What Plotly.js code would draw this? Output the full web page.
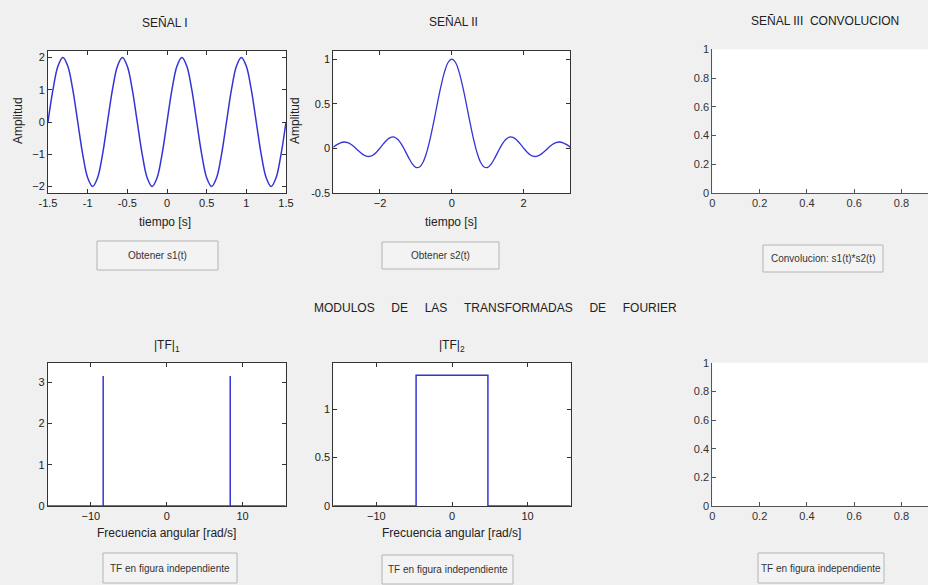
<!DOCTYPE html>
<html>
<head>
<meta charset="utf-8">
<script src="https://cdn.plot.ly/plotly-3.0.1.min.js"></script>
<style>html,body{margin:0;padding:0;background:#f0f0f0;}#chart{width:928px;height:585px;}</style>
</head>
<body>
<div id="chart"></div>
<script>
// ---------- DATA ----------
// Señal I : s1(t)
const t1 = [-1.5,-1.4375,-1.375,-1.3125,-1.25,-1.1875,-1.125,-1.0625,-1,-0.9375,-0.875,-0.8125,
  -0.75,-0.6875,-0.625,-0.5625,-0.5,-0.4375,-0.375,-0.3125,-0.25,-0.1875,-0.125,-0.0625,
  0,0.0625,0.125,0.1875,0.25,0.3125,0.375,0.4375,0.5,0.5625,0.625,0.6875,
  0.75,0.8125,0.875,0.9375,1,1.0625,1.125,1.1875,1.25,1.3125,1.375,1.4375,1.5];
const s1 = [0,1,1.73,2,1.73,1,0,-1,-1.73,-2,-1.73,-1,
  0,1,1.73,2,1.73,1,0,-1,-1.73,-2,-1.73,-1,
  0,1,1.73,2,1.73,1,0,-1,-1.73,-2,-1.73,-1,
  0,1,1.73,2,1.73,1,0,-1,-1.73,-2,-1.73,-1,0];

// Señal II : s2(t)
const t2 = [-3.3,-3.2,-3.1,-3.0,-2.9,-2.8,-2.7,-2.6,-2.5,-2.4,-2.3,-2.2,-2.1,-2.0,-1.9,-1.8,-1.7,-1.6,-1.5,-1.4,
  -1.3,-1.2,-1.1,-1.0,-0.9,-0.8,-0.7,-0.6,-0.5,-0.4,-0.3,-0.2,-0.1,0,
  0.1,0.2,0.3,0.4,0.5,0.6,0.7,0.8,0.9,1.0,1.1,1.2,1.3,1.4,1.5,1.6,1.7,1.8,1.9,2.0,
  2.1,2.2,2.3,2.4,2.5,2.6,2.7,2.8,2.9,3.0,3.1,3.2,3.3];
const s2 = [0.013,0.041,0.062,0.071,0.064,0.043,0.010,-0.028,-0.062,-0.085,-0.091,-0.077,-0.044,0.003,0.053,0.097,0.124,0.126,0.098,0.045,
  -0.028,-0.106,-0.173,-0.213,-0.209,-0.155,-0.045,0.112,0.303,0.507,0.700,0.859,0.964,1,
  0.964,0.859,0.700,0.507,0.303,0.112,-0.045,-0.155,-0.209,-0.213,-0.173,-0.106,-0.028,0.045,0.098,0.126,0.124,0.097,0.053,0.003,
  -0.044,-0.077,-0.091,-0.085,-0.062,-0.028,0.010,0.043,0.064,0.071,0.062,0.041,0.013];

// |TF|1
const w1 = [-15.7,-8.38,-8.38,-8.38,8.38,8.38,8.38,15.7];
const tf1 = [0,0,3.15,0,0,3.15,0,0];
// |TF|2
const w2 = [-15.7,-4.75,-4.75,4.75,4.75,15.7];
const tf2 = [0,0,1.35,1.35,0,0];

// Texts
const titles = ["SEÑAL I", "SEÑAL II", "SEÑAL III\u00a0\u00a0CONVOLUCION", "|TF|<sub>1</sub>", "|TF|<sub>2</sub>"];
const buttonLabels = ["Obtener s1(t)", "Obtener s2(t)", "Convolucion: s1(t)*s2(t)",
  "TF en figura independiente", "TF en figura independiente", "TF en figura independiente"];
const GAP = "\u00a0\u00a0\u00a0\u00a0\u00a0";
const sectionTitle = ["MODULOS", "DE", "LAS", "TRANSFORMADAS", "DE", "FOURIER"].join(GAP);

// ---------- LAYOUT HELPERS ----------
const W = 928, H = 585;
const px = p => p / W;
const py = p => 1 - p / H;
const FONT = "Liberation Sans, Arial, sans-serif";
const BLUE = "#3434d6";

function boxAxis(extra) {
  return Object.assign({
    showline: true, linecolor: "#333", linewidth: 1, mirror: "ticks",
    ticks: "inside", ticklen: 4, tickcolor: "#333", tickwidth: 1,
    showgrid: false, zeroline: false, fixedrange: true,
    tickfont: {family: FONT, size: 11, color: "#222"}
  }, extra);
}
function openAxis(extra) {
  return Object.assign({
    showline: true, linecolor: "#555", linewidth: 1, mirror: false,
    ticks: "inside", ticklen: 4, tickcolor: "#555", tickwidth: 1,
    showgrid: false, zeroline: false, fixedrange: true,
    tickfont: {family: FONT, size: 11, color: "#333"}
  }, extra);
}

const traces = [
  {x: t1, y: s1, xaxis: "x", yaxis: "y", type: "scatter", mode: "lines",
   line: {color: BLUE, width: 1.5, shape: "spline", smoothing: 1}},
  {x: t2, y: s2, xaxis: "x2", yaxis: "y2", type: "scatter", mode: "lines",
   line: {color: BLUE, width: 1.3, shape: "spline", smoothing: 1}},
  {x: [], y: [], xaxis: "x3", yaxis: "y3", type: "scatter", mode: "lines"},
  {x: w1, y: tf1, xaxis: "x4", yaxis: "y4", type: "scatter", mode: "lines",
   line: {color: BLUE, width: 1.5}},
  {x: w2, y: tf2, xaxis: "x5", yaxis: "y5", type: "scatter", mode: "lines",
   line: {color: BLUE, width: 1.5}},
  {x: [], y: [], xaxis: "x6", yaxis: "y6", type: "scatter", mode: "lines"}
];

const topY = [py(193), py(51)];
const botY = [py(506), py(362.7)];

const layout = {
  width: W, height: H,
  margin: {l: 0, r: 0, t: 0, b: 0, pad: 0},
  paper_bgcolor: "#f0f0f0", plot_bgcolor: "#ffffff",
  showlegend: false,
  font: {family: FONT, color: "#222"},
  xaxis: boxAxis({domain: [px(48), px(286)], range: [-1.5, 1.5], anchor: "y",
    tickvals: [-1.5, -1, -0.5, 0, 0.5, 1, 1.5], ticktext: ["-1.5", "-1", "-0.5", "0", "0.5", "1", "1.5"]}),
  yaxis: boxAxis({domain: topY, range: [-2.2, 2.2], anchor: "x", tickvals: [-2, -1, 0, 1, 2]}),
  xaxis2: boxAxis({domain: [px(333.3), px(570.3)], range: [-3.3, 3.3], anchor: "y2", tickvals: [-2, 0, 2]}),
  yaxis2: boxAxis({domain: topY, range: [-0.5, 1.09], anchor: "x2", tickvals: [-0.5, 0, 0.5, 1], ticktext: ["-0.5", "0", "0.5", "1"]}),
  xaxis3: openAxis({domain: [px(712.3), 1], range: [0, 0.912], anchor: "y3", tickvals: [0, 0.2, 0.4, 0.6, 0.8], ticktext: ["0", "0.2", "0.4", "0.6", "0.8"]}),
  yaxis3: openAxis({domain: [py(193), py(49.3)], range: [0, 1], anchor: "x3", tickvals: [0, 0.2, 0.4, 0.6, 0.8, 1], ticktext: ["0", "0.2", "0.4", "0.6", "0.8", "1"]}),
  xaxis4: boxAxis({domain: [px(47.7), px(285.7)], range: [-15.7, 15.7], anchor: "y4", tickvals: [-10, 0, 10]}),
  yaxis4: boxAxis({domain: botY, range: [0, 3.47], anchor: "x4", tickvals: [0, 1, 2, 3]}),
  xaxis5: boxAxis({domain: [px(333.3), px(570.7)], range: [-15.7, 15.7], anchor: "y5", tickvals: [-10, 0, 10]}),
  yaxis5: boxAxis({domain: botY, range: [0, 1.48], anchor: "x5", tickvals: [0, 0.5, 1], ticktext: ["0", "0.5", "1"]}),
  xaxis6: openAxis({domain: [px(712.3), 1], range: [0, 0.912], anchor: "y6", tickvals: [0, 0.2, 0.4, 0.6, 0.8], ticktext: ["0", "0.2", "0.4", "0.6", "0.8"]}),
  yaxis6: openAxis({domain: botY, range: [0, 1], anchor: "x6", tickvals: [0, 0.2, 0.4, 0.6, 0.8, 1], ticktext: ["0", "0.2", "0.4", "0.6", "0.8", "1"]}),
  shapes: [],
  annotations: []
};

function note(text, x, y, size, opts) {
  layout.annotations.push(Object.assign({
    text: text, x: px(x), y: py(y), xref: "paper", yref: "paper",
    xanchor: "center", yanchor: "middle", showarrow: false,
    font: {family: FONT, size: size, color: "#222"}
  }, opts || {}));
}

// subplot titles
note(titles[0], 165, 23, 12);
note(titles[1], 453, 22, 12);
note(titles[2], 825, 21, 12);
note(titles[3], 167, 346, 12);
note(titles[4], 452, 346, 12);
// axis titles
note("Amplitud", 18, 121, 12, {textangle: -90});
note("Amplitud", 295, 121, 12, {textangle: -90});
note("tiempo [s]", 165, 222, 12);
note("tiempo [s]", 451, 222, 12);
note("Frecuencia angular [rad/s]", 166, 533, 12);
note("Frecuencia angular [rad/s]", 451, 533, 12);
note(sectionTitle, 495, 308, 12);

// buttons
const btn = [[97, 241, 218, 270], [382, 242, 499, 269], [763, 245, 883, 272],
             [103, 553, 237, 583], [382, 555, 513, 584], [758, 553, 884, 583]];
btn.forEach((b, i) => {
  layout.shapes.push({type: "rect", xref: "paper", yref: "paper",
    x0: px(b[0]), x1: px(b[2]), y0: py(b[3]), y1: py(b[1]),
    fillcolor: "#f3f3f3", line: {color: "#b4b4b4", width: 1}, layer: "below"});
  note(buttonLabels[i], (b[0] + b[2]) / 2, (b[1] + b[3]) / 2, 10, {font: {family: FONT, size: 10, color: "#333"}});
});

Plotly.newPlot("chart", traces, layout, {displayModeBar: false, staticPlot: true});
</script>
</body>
</html>
